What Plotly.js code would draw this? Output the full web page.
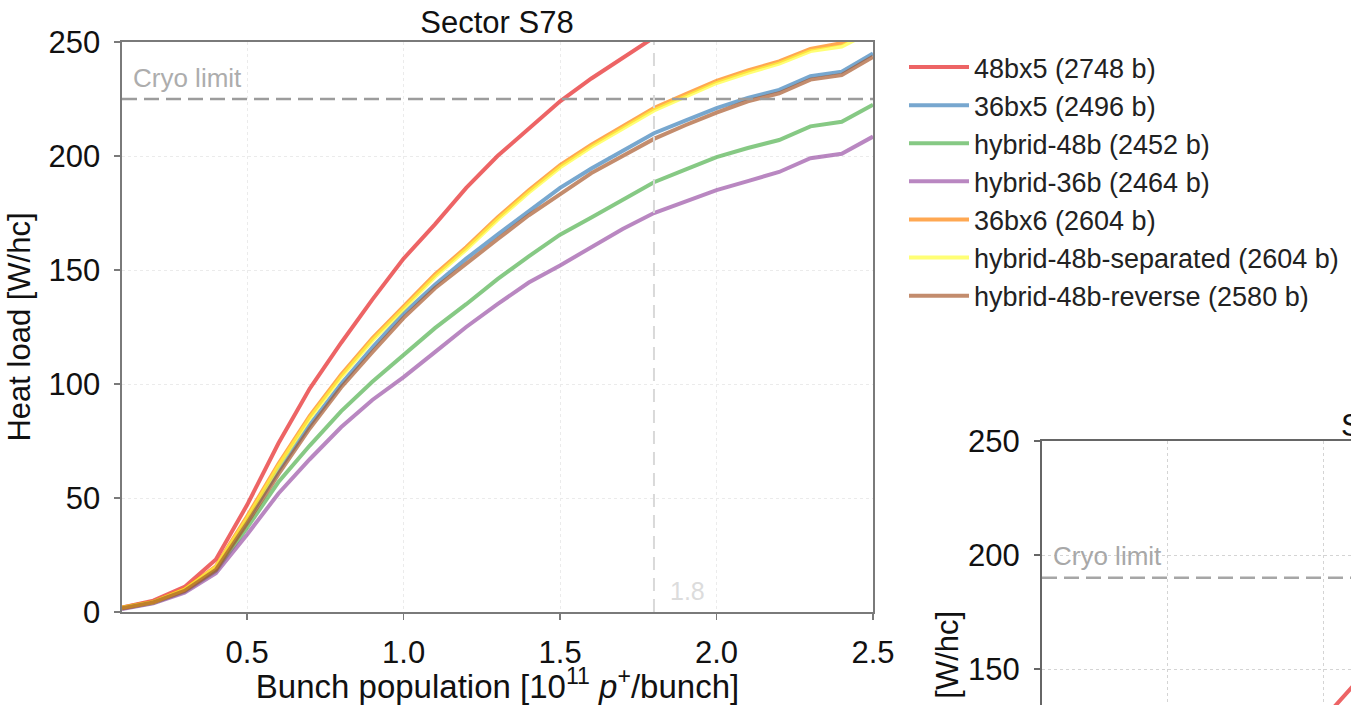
<!DOCTYPE html>
<html>
<head>
<meta charset="utf-8">
<script src="https://cdn.plot.ly/plotly-3.0.1.min.js"></script>
<style>html,body{margin:0;padding:0;background:#fff;overflow:hidden}</style>
</head>
<body>
<div id="chart" style="width:1351px;height:705px"></div>
<script>
// ---------- data ----------
const bunchPop = [0.1,0.2,0.3,0.4,0.5,0.6,0.7,0.8,0.9,1.0,1.1,1.2,1.3,1.4,1.5,1.6,1.7,1.8,1.9,2.0,2.1,2.2,2.3,2.4,2.5];
const hl_48bx5        = [2,5,11,23,47,74,98,118,137,155,170,186,200,212,224,234,243,252,260];
const hl_36bx5        = [1.7,4.3,9.5,19,40,62,82,100,116,131,143.5,155,165.5,176,186,194.5,202.5,210,215.5,221,225.5,229,235,237,245];
const hl_hybrid48b    = [1.5,4,9,18,37,57,73,88,101,113,124.5,135,146,156,165.5,173,181,188.5,194,199.5,203.5,207,213,215,222.5];
const hl_hybrid36b    = [1.3,3.8,8.5,17,34,52,67,81,93,103,114,125,135,144.5,152,160,168,175,180,185,189,193,199,201,208.5];
const hl_36bx6        = [2,4.5,10,20,42,65,86,104,120,134,148,160,173,185,196,205,213,221,227,233,237.5,241.5,247,249.5,257];
const hl_hybrid48bSep = [1.8,4.3,9.8,19.6,41,64,85,103,119,133,147,159,172,184,195,204,212,220,226,232,236.5,240.5,246,248,255];
const hl_hybrid48bRev = [1.6,4.2,9.3,18.5,39,60.5,80.5,98.5,114,129,142,153,163.5,174,183.5,192.5,200,207.5,213.5,219,224,227.5,233.5,235.5,243.5];

const seriesNames = ['48bx5 (2748 b)','36bx5 (2496 b)','hybrid-48b (2452 b)','hybrid-36b (2464 b)','36bx6 (2604 b)','hybrid-48b-separated (2604 b)','hybrid-48b-reverse (2580 b)'];
const seriesValues = [hl_48bx5, hl_36bx5, hl_hybrid48b, hl_hybrid36b, hl_36bx6, hl_hybrid48bSep, hl_hybrid48bRev];
const seriesColors = ['rgba(228,26,28,0.68)','rgba(55,126,184,0.68)','rgba(77,175,74,0.68)','rgba(152,78,163,0.68)','rgba(255,127,0,0.68)','rgba(255,255,51,0.68)','rgba(166,86,40,0.68)'];

// second (partially visible) panel
const secondX = [0.9,1.0,1.1,1.2];
const secondRed = [113,128.5,143.5,157];

const cryoLimitMain = 225;
const cryoLimitSecond = 190;
const nominalBunch = 1.8;
const xTickVals = [0.5,1.0,1.5,2.0,2.5];
const xTickText = ['0.5','1.0','1.5','2.0','2.5'];
const yTickVals = [0,50,100,150,200,250];
const yTickVals2 = [150,200,250];

// ---------- layout helpers ----------
const W = 1351, H = 705;
const px = v => v / W;
const py = v => 1 - v / H;
const FONT = 'Liberation Sans, Arial, Helvetica, sans-serif';

const traces = seriesNames.map((n, i) => ({
  type: 'scatter', mode: 'lines', name: n,
  x: bunchPop.slice(0, seriesValues[i].length), y: seriesValues[i],
  line: {color: seriesColors[i], width: 4},
  xaxis: 'x', yaxis: 'y'
}));
traces.push({
  type: 'scatter', mode: 'lines', name: seriesNames[0], showlegend: false,
  x: secondX, y: secondRed, line: {color: seriesColors[0], width: 4},
  xaxis: 'x2', yaxis: 'y2'
});

const scale = 313; // px per unit of x
const x2max = 0.1 + (W - 1042) / scale;
const y2min = 250 - (H - 441) / 2.28;

const layout = {
  width: W, height: H, autosize: false,
  margin: {l: 0, r: 0, t: 0, b: 0},
  paper_bgcolor: '#fff', plot_bgcolor: '#fff',
  font: {family: FONT, color: '#111'},
  showlegend: true,
  title: {text: 'Sector S78', x: px(497), xref: 'paper', xanchor: 'center', y: py(22), yref: 'paper', yanchor: 'middle', font: {size: 31, color: '#111'}},
  xaxis: {
    domain: [px(122), px(873)], range: [0.1, 2.5], anchor: 'y',
    tickvals: xTickVals, ticktext: xTickText,
    showline: true, mirror: true, linecolor: '#7a7a7a', linewidth: 1.6,
    ticks: 'outside', ticklen: 6, tickcolor: '#7a7a7a', tickwidth: 1.5,
    showgrid: true, gridcolor: '#ebebeb', griddash: 'dot', gridwidth: 1, zeroline: false,
    tickfont: {size: 31, color: '#111'}, ticklabelstandoff: 6,
    title: {text: 'Bunch population [10<sup>11</sup> <i>p</i><sup>+</sup>/bunch]', font: {size: 33, color: '#111'}, standoff: 3}
  },
  yaxis: {
    domain: [py(612), py(42)], range: [0, 250], anchor: 'x',
    tickvals: yTickVals,
    showline: true, mirror: true, linecolor: '#7a7a7a', linewidth: 1.6,
    ticks: 'outside', ticklen: 6, tickcolor: '#7a7a7a', tickwidth: 1.5,
    showgrid: true, gridcolor: '#ebebeb', griddash: 'dot', gridwidth: 1, zeroline: false,
    tickfont: {size: 31, color: '#111'}, ticklabelstandoff: 8,
    title: {text: 'Heat load [W/hc]', font: {size: 31, color: '#111'}, standoff: 8}
  },
  xaxis2: {
    domain: [px(1042), 1], range: [0.1, x2max], anchor: 'y2', side: 'top',
    tickvals: [0.5, 1.0], showticklabels: false, ticks: '',
    showline: true, linecolor: '#666', linewidth: 2,
    showgrid: true, gridcolor: '#d4d4d4', griddash: 'dot', gridwidth: 1, zeroline: false
  },
  yaxis2: {
    domain: [0, py(441)], range: [y2min, 250], anchor: 'x2',
    tickvals: yTickVals2,
    showline: true, linecolor: '#666', linewidth: 2,
    ticks: 'outside', ticklen: 6, tickcolor: '#666', tickwidth: 1.5,
    showgrid: true, gridcolor: '#d4d4d4', griddash: 'dot', gridwidth: 1, zeroline: false,
    tickfont: {size: 31, color: '#111'}, ticklabelstandoff: 8
  },
  legend: {
    x: px(904), xanchor: 'left', y: py(43), yanchor: 'top',
    font: {size: 27, color: '#222', family: FONT},
    bgcolor: 'rgba(0,0,0,0)', itemwidth: 60, traceorder: 'normal', tracegroupgap: 0
  },
  shapes: [
    {type: 'line', xref: 'x', yref: 'y', x0: 0.1, x1: 2.5, y0: cryoLimitMain, y1: cryoLimitMain,
     line: {color: '#9c9c9c', width: 2.5, dash: '15px,7px'}},
    {type: 'line', xref: 'x', yref: 'y', x0: nominalBunch, x1: nominalBunch, y0: 0, y1: 250,
     line: {color: '#d9d9d9', width: 2, dash: '13px,8px'}},
    {type: 'line', xref: 'x2', yref: 'y2', x0: 0.1, x1: 2.5, y0: cryoLimitSecond, y1: cryoLimitSecond,
     line: {color: '#a6a6a6', width: 2.5, dash: '15px,7px'}}
  ],
  annotations: [
    {xref: 'x', yref: 'y', x: 0.13, y: 234, xanchor: 'left', yanchor: 'middle', showarrow: false,
     text: 'Cryo limit', font: {size: 26, color: '#adadad'}},
    {xref: 'x', yref: 'y', x: nominalBunch, y: 9, xanchor: 'left', yanchor: 'middle', xshift: 14, showarrow: false,
     text: String(nominalBunch), font: {size: 25, color: '#dcdcdc'}},
    {xref: 'x2', yref: 'y2', x: 0.13, y: 199.5, xanchor: 'left', yanchor: 'middle', showarrow: false,
     text: 'Cryo limit', font: {size: 26, color: '#a8a8a8'}},
    {xref: 'paper', yref: 'paper', x: px(1339), y: py(425), xanchor: 'left', yanchor: 'middle', showarrow: false,
     text: 'Sector', font: {size: 31, color: '#111'}},
    {xref: 'paper', yref: 'paper', x: px(947), y: py(726), xanchor: 'center', yanchor: 'middle', showarrow: false,
     textangle: -90, text: 'Heat load [W/hc]', font: {size: 31, color: '#111'}}
  ]
};

Plotly.newPlot('chart', traces, layout, {staticPlot: true, displayModeBar: false});
</script>
</body>
</html>
